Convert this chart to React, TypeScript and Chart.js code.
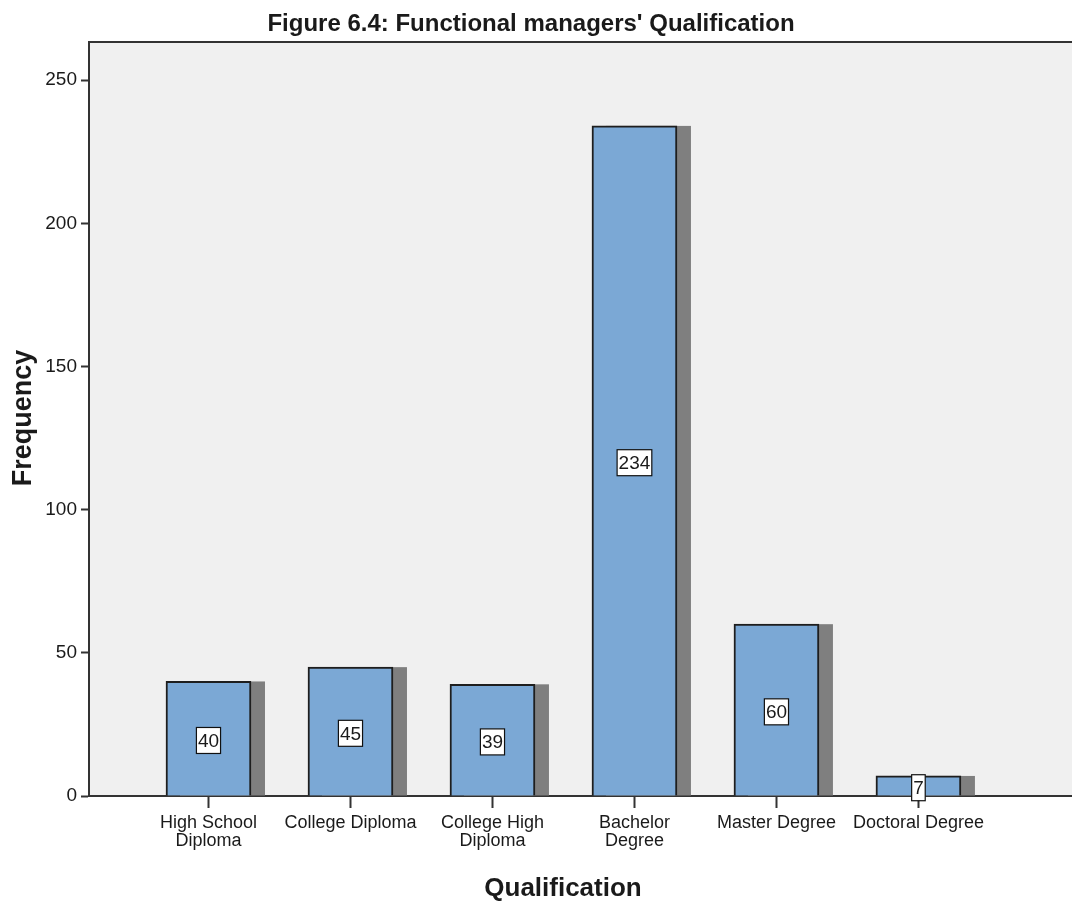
import { useEffect, useRef } from "react";
import { Chart, registerables } from "chart.js";

Chart.register(...registerables);

// Qualification categories (multi-line tick labels)
const categories: string[][] = [
  ["High School", "Diploma"],
  ["College Diploma"],
  ["College High", "Diploma"],
  ["Bachelor", "Degree"],
  ["Master Degree"],
  ["Doctoral Degree"],
];

// Frequency per qualification
const frequencies: number[] = [40, 45, 39, 234, 60, 7];

// Y axis tick values
const yTicks: number[] = [0, 50, 100, 150, 200, 250];

const chartTitle = "Figure 6.4: Functional managers' Qualification";
const xTitle = "Qualification";
const yTitle = "Frequency";

const FONT = "'Liberation Sans', Arial, sans-serif";
const AXIS_COLOR = "#333333";
const TEXT_COLOR = "#1a1a1a";

const plotBackground = {
  id: "plotBackground",
  beforeDraw(chart: any) {
    const { ctx, chartArea: a } = chart;
    ctx.save();
    ctx.fillStyle = "#f0f0f0";
    ctx.fillRect(a.left, a.top, a.right - a.left, a.bottom - a.top);
    ctx.restore();
  },
};

// Drop shadow behind each bar, offset to the right
const barShadow = {
  id: "barShadow",
  beforeDatasetsDraw(chart: any) {
    const { ctx } = chart;
    const meta = chart.getDatasetMeta(0);
    ctx.save();
    ctx.fillStyle = "#7f7f7f";
    meta.data.forEach((el: any) => {
      const { x, y, base, width } = el.getProps(["x", "y", "base", "width"], true);
      ctx.fillRect(x - width / 2 + 14, y, width, base - y);
    });
    ctx.restore();
  },
};

// Boxed value label in the middle of each bar
const valueLabels = {
  id: "valueLabels",
  afterDatasetsDraw(chart: any) {
    const { ctx } = chart;
    const meta = chart.getDatasetMeta(0);
    ctx.save();
    ctx.font = `19px ${FONT}`;
    ctx.textAlign = "center";
    ctx.textBaseline = "middle";
    meta.data.forEach((el: any, i: number) => {
      const { x, y, base } = el.getProps(["x", "y", "base"], true);
      const text = String(frequencies[i]);
      const w = ctx.measureText(text).width;
      const cy = (y + base) / 2 + 2;
      const bw = w + 3;
      const bh = 26;
      ctx.fillStyle = "#ffffff";
      ctx.fillRect(x - bw / 2, cy - bh / 2, bw, bh);
      ctx.strokeStyle = "#111111";
      ctx.lineWidth = 1.2;
      ctx.strokeRect(x - bw / 2, cy - bh / 2, bw, bh);
      ctx.fillStyle = TEXT_COLOR;
      ctx.fillText(text, x, cy + 1);
    });
    ctx.restore();
  },
};

// Top frame line and the chart / axis titles
const frameAndTitles = {
  id: "frameAndTitles",
  afterDraw(chart: any) {
    const { ctx, chartArea: a } = chart;
    ctx.save();
    ctx.strokeStyle = AXIS_COLOR;
    ctx.lineWidth = 2;
    ctx.beginPath();
    ctx.moveTo(a.left - 1, a.top);
    ctx.lineTo(a.right, a.top);
    ctx.stroke();

    ctx.fillStyle = TEXT_COLOR;
    ctx.textBaseline = "alphabetic";
    ctx.textAlign = "center";
    ctx.font = `bold 24px ${FONT}`;
    ctx.fillText(chartTitle, 531, 31);

    ctx.font = `bold 26px ${FONT}`;
    ctx.fillText(xTitle, 563, 896);

    ctx.translate(31, 418);
    ctx.rotate(-Math.PI / 2);
    ctx.font = `bold 27px ${FONT}`;
    ctx.fillText(yTitle, 0, 0);
    ctx.restore();
  },
};

export default function App() {
  const canvasRef = useRef<HTMLCanvasElement | null>(null);

  useEffect(() => {
    const canvas = canvasRef.current;
    if (!canvas) return;
    const chart = new Chart(canvas, {
      type: "bar",
      data: {
        datasets: [
          {
            data: frequencies.map((v, i) => ({ x: i, y: v })),
            backgroundColor: "#7ba8d5",
            borderColor: "#1e1e1e",
            borderWidth: 2,
            barThickness: 85,
          },
        ],
      },
      plugins: [plotBackground, barShadow, valueLabels, frameAndTitles],
      options: {
        animation: false,
        responsive: false,
        devicePixelRatio: 1,
        layout: { padding: { top: 42, right: 0, left: 0, bottom: 0 } },
        plugins: {
          legend: { display: false },
          tooltip: { enabled: false },
          title: { display: false },
        },
        scales: {
          x: {
            type: "linear",
            offset: false,
            min: -0.8415,
            max: 6.0815,
            afterBuildTicks(scale: any) {
              scale.ticks = categories.map((_, i) => ({ value: i }));
            },
            afterFit(scale: any) {
              scale.height = 105;
            },
            grid: {
              offset: false,
              drawOnChartArea: false,
              drawTicks: true,
              tickLength: 12,
              tickWidth: 2,
              tickColor: AXIS_COLOR,
            },
            border: { display: true, color: AXIS_COLOR, width: 2 },
            ticks: {
              autoSkip: false,
              maxRotation: 0,
              minRotation: 0,
              padding: 6,
              color: TEXT_COLOR,
              font: { family: FONT, size: 18, lineHeight: 1.0 },
              callback: (value: any) => categories[Math.round(Number(value))] ?? "",
            },
          },
          y: {
            type: "linear",
            min: 0,
            max: 263.3,
            afterBuildTicks(scale: any) {
              scale.ticks = yTicks.map((v) => ({ value: v }));
            },
            afterFit(scale: any) {
              scale.width = 89;
            },
            grid: {
              drawOnChartArea: false,
              drawTicks: true,
              tickLength: 8,
              tickWidth: 2,
              tickColor: AXIS_COLOR,
            },
            border: { display: true, color: AXIS_COLOR, width: 2 },
            ticks: {
              padding: 4,
              color: TEXT_COLOR,
              font: { family: FONT, size: 19 },
            },
          },
        },
      },
    });
    return () => chart.destroy();
  }, []);

  return (
    <div style={{ position: "absolute", left: 0, top: 0, width: 1072, height: 901, background: "#ffffff" }}>
      <canvas ref={canvasRef} width={1072} height={901} style={{ display: "block" }} />
    </div>
  );
}
